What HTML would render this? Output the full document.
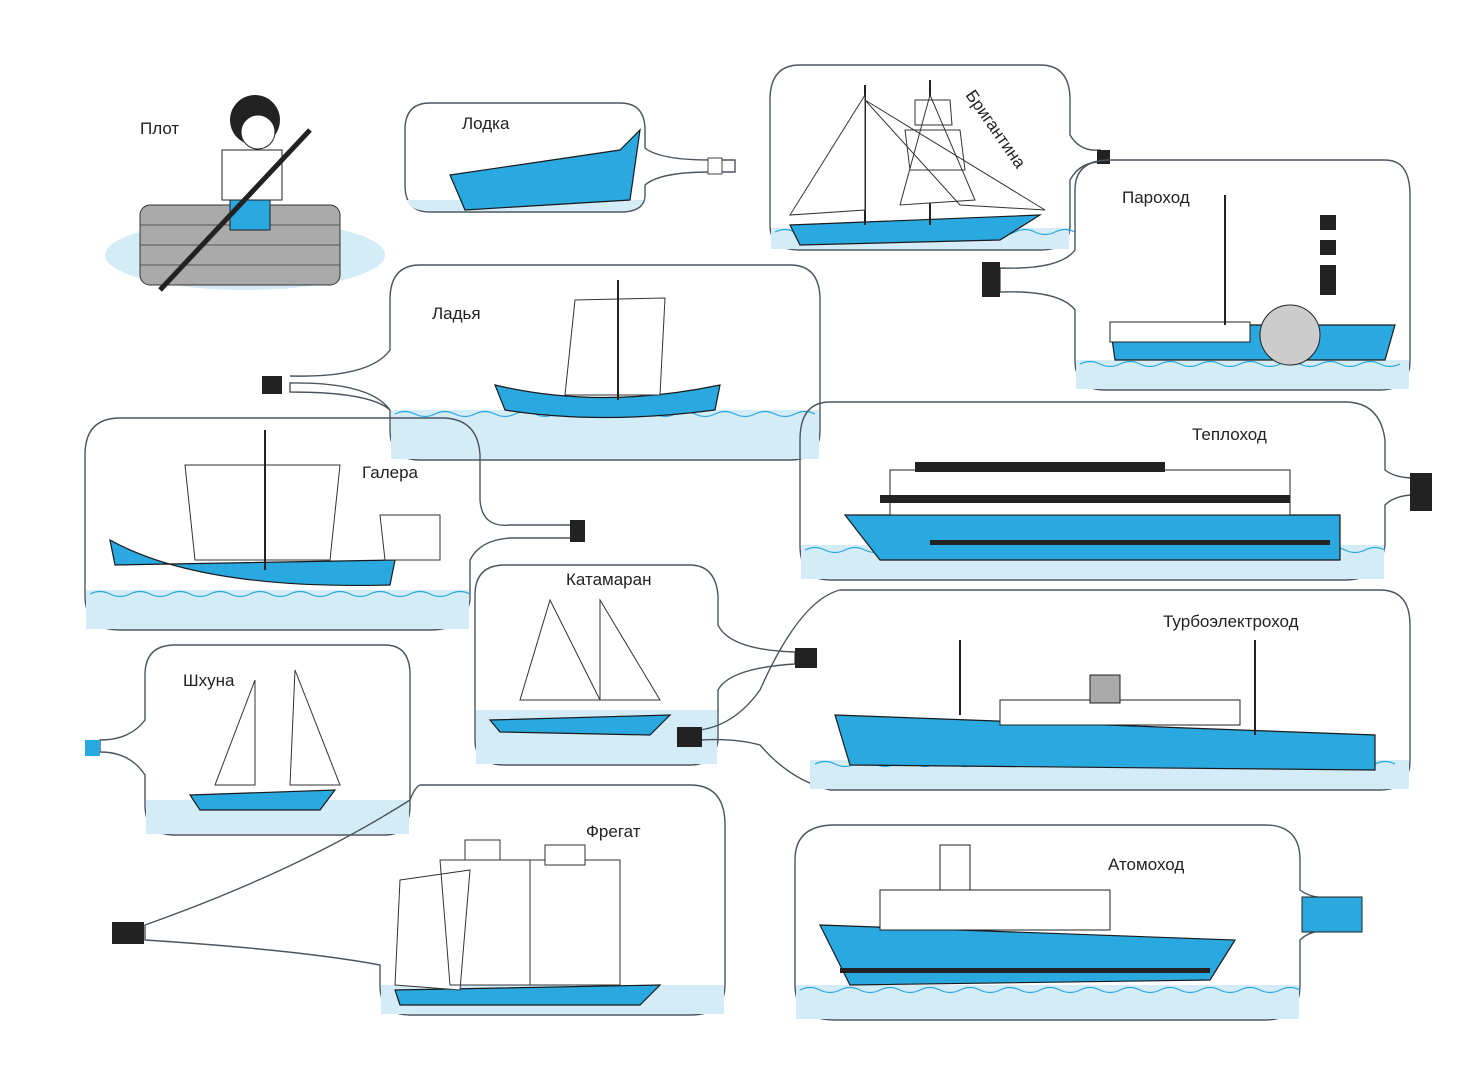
<!DOCTYPE html>
<html><head><meta charset="utf-8"><style>
html,body{margin:0;padding:0;background:#fff;}
svg{display:block}
text{font-family:"Liberation Sans",sans-serif;font-size:17px;fill:#222}
.b{fill:none;stroke:#4a5560;stroke-width:1.4}
.w{fill:#d3ecf7}
.s{fill:#2aa8e0;stroke:#1a1a1a;stroke-width:1.2}
.sail{fill:#fff;stroke:#333;stroke-width:1}
.m{stroke:#222;stroke-width:2}
.cork{fill:#222}
.wv{fill:none;stroke:#2aa8e0;stroke-width:1.2}
</style></head><body>
<svg width="1480" height="1080" viewBox="0 0 1480 1080">
<!-- Plot -->
<text x="140" y="134">Плот</text>
<ellipse cx="245" cy="255" rx="140" ry="35" class="w"/>
<rect x="140" y="205" width="200" height="80" rx="10" fill="#aaa" stroke="#333"/>
<g stroke="#555"><line x1="140" y1="225" x2="340" y2="225"/><line x1="140" y1="245" x2="340" y2="245"/><line x1="140" y1="265" x2="340" y2="265"/></g>
<circle cx="255" cy="120" r="25" fill="#222"/><circle cx="258" cy="132" r="17" fill="#fff" stroke="#222"/>
<rect x="222" y="150" width="60" height="50" fill="#fff" stroke="#222"/>
<rect x="230" y="200" width="40" height="30" fill="#2aa8e0" stroke="#222"/>
<line x1="160" y1="290" x2="310" y2="130" stroke="#222" stroke-width="5"/>
<!-- Lodka -->
<path class="b" style="fill:#fff" d="M430 103 H620 Q645 103 645 130 V148 Q660 160 710 160 H735 V172 H710 Q660 172 645 185 V195 Q645 212 620 212 H430 Q405 212 405 185 V130 Q405 103 430 103Z"/>
<path class="w" d="M406 200 H644 V195 Q644 211 620 211 H430 Q406 211 406 195Z"/>
<rect x="708" y="158" width="14" height="16" fill="#fff" stroke="#444"/>
<text x="462" y="129">Лодка</text>
<path class="s" d="M450 175 L620 150 L640 130 L630 200 L465 210 Z"/>
<!-- Brigantina -->
<path class="b" d="M800 65 H1040 Q1070 65 1070 100 V135 Q1080 152 1100 150 V162 Q1080 162 1070 180 V225 Q1070 250 1040 250 H800 Q770 250 770 225 V100 Q770 65 800 65Z"/>
<rect x="771" y="228" width="298" height="21" class="w"/>
<path class="wv" d="M775 232 q10 -5 20 0 t20 0 t20 0 t20 0 t20 0 t20 0 t20 0 t20 0 t20 0 t20 0 t20 0 t20 0 t20 0 t20 0 t20 0"/>
<rect x="1097" y="150" width="13" height="14" class="cork"/>
<text x="965" y="95" transform="rotate(55 965 95)">Бригантина</text>
<path class="s" d="M790 225 L1040 215 L1000 240 L800 245Z"/>
<line x1="865" y1="85" x2="865" y2="225" class="m"/><line x1="930" y1="80" x2="930" y2="225" class="m"/>
<path class="sail" d="M865 95 L790 215 L865 210Z M930 95 L975 200 L900 205Z M905 130 L960 130 L965 170 L910 170Z M915 100 L950 100 L952 125 L915 125Z M865 100 L1045 210 L960 205Z"/>
<!-- Parohod -->
<path class="b" d="M1110 160 H1385 Q1410 160 1410 195 V360 Q1410 390 1380 390 H1105 Q1075 390 1075 360 V310 Q1060 290 1000 292 V268 Q1060 270 1075 250 V190 Q1075 160 1110 160Z"/>
<rect x="1076" y="360" width="333" height="29" class="w"/>
<path class="wv" d="M1080 364 q10 -5 20 0 t20 0 t20 0 t20 0 t20 0 t20 0 t20 0 t20 0 t20 0 t20 0 t20 0 t20 0 t20 0 t20 0 t20 0 t20 0"/>
<rect x="982" y="262" width="18" height="35" class="cork"/>
<text x="1122" y="203">Пароход</text>
<path class="s" d="M1110 325 L1395 325 L1385 360 L1115 360Z"/>
<rect x="1110" y="322" width="140" height="20" fill="#fff" stroke="#222"/>
<rect x="1320" y="215" width="16" height="80" fill="#222"/>
<rect x="1320" y="230" width="16" height="10" fill="#fff"/><rect x="1320" y="255" width="16" height="10" fill="#fff"/>
<circle cx="1290" cy="335" r="30" fill="#ccc" stroke="#222"/>
<line x1="1225" y1="195" x2="1225" y2="325" class="m"/>
<!-- Ladya -->
<path class="b" d="M420 265 H790 Q820 265 820 300 V430 Q820 460 790 460 H420 Q390 460 390 430 V410 Q370 382 290 383 V392 Q370 392 390 410" />
<path class="b" d="M420 265 Q390 265 390 300 V350 Q370 378 290 376"/>
<rect x="391" y="410" width="428" height="49" class="w"/>
<path class="wv" d="M395 414 q10 -5 20 0 t20 0 t20 0 t20 0 t20 0 t20 0 t20 0 t20 0 t20 0 t20 0 t20 0 t20 0 t20 0 t20 0 t20 0 t20 0 t20 0 t20 0 t20 0 t20 0 t20 0"/>
<rect x="262" y="376" width="20" height="18" class="cork"/>
<text x="432" y="319">Ладья</text>
<path class="s" d="M495 385 Q600 410 720 385 L715 410 Q600 425 505 410Z"/>
<path class="sail" d="M575 300 L665 298 L660 395 L565 395Z"/>
<line x1="618" y1="280" x2="618" y2="400" class="m"/>
<!-- Galera -->
<path class="b" d="M120 418 H445 Q478 420 480 455 V500 Q482 528 510 525 H575 V538 H510 Q480 540 470 560 V600 Q465 630 430 630 H120 Q85 630 85 595 V455 Q85 418 120 418Z"/>
<rect x="86" y="590" width="383" height="39" class="w"/>
<path class="wv" d="M90 594 q10 -5 20 0 t20 0 t20 0 t20 0 t20 0 t20 0 t20 0 t20 0 t20 0 t20 0 t20 0 t20 0 t20 0 t20 0 t20 0 t20 0 t20 0 t20 0 t20 0"/>
<rect x="570" y="520" width="15" height="22" class="cork"/>
<text x="362" y="478">Галера</text>
<path class="s" d="M110 540 Q200 590 390 585 L395 560 L115 565Z"/>
<path class="sail" d="M185 465 L340 465 L330 560 L195 560Z"/>
<path class="sail" d="M380 515 L440 515 L440 560 L385 560Z"/>
<line x1="265" y1="430" x2="265" y2="570" class="m"/>
<!-- Teplohod -->
<path class="b" d="M830 402 H1345 Q1380 402 1385 440 V470 Q1395 478 1415 478 V495 Q1395 495 1385 505 V545 Q1380 580 1345 580 H830 Q800 580 800 545 V440 Q800 402 830 402Z"/>
<rect x="801" y="545" width="583" height="34" class="w"/>
<path class="wv" d="M805 550 q10 -5 20 0 t20 0 t20 0 t20 0 t20 0 t20 0 t20 0 t20 0 t20 0 t20 0 t20 0 t20 0 t20 0 t20 0 t20 0 t20 0 t20 0 t20 0 t20 0 t20 0 t20 0 t20 0 t20 0 t20 0 t20 0 t20 0 t20 0 t20 0 t20 0"/>
<rect x="1410" y="473" width="22" height="38" class="cork"/>
<text x="1192" y="440">Теплоход</text>
<path class="s" d="M845 515 L1340 515 L1340 560 L880 560Z"/>
<rect x="890" y="470" width="400" height="45" fill="#fff" stroke="#222"/>
<rect x="915" y="462" width="250" height="10" fill="#222"/>
<rect x="880" y="495" width="410" height="8" fill="#222"/>
<rect x="930" y="540" width="400" height="5" fill="#222"/>
<!-- Katamaran -->
<path class="b" d="M505 565 H690 Q715 565 718 595 V625 Q730 650 795 652 V664 Q730 668 718 690 V740 Q715 765 690 765 H505 Q475 765 475 740 V595 Q475 565 505 565Z"/>
<rect x="476" y="710" width="241" height="54" class="w"/>
<rect x="795" y="648" width="22" height="20" class="cork"/>
<text x="566" y="585">Катамаран</text>
<path class="s" d="M490 720 L670 715 L650 735 L500 732Z"/>
<path class="sail" d="M550 600 L600 700 L520 700Z M600 600 L660 700 L600 700Z"/>
<!-- Turbo -->
<path class="b" d="M840 590 H1380 Q1410 590 1410 625 V760 Q1410 790 1380 790 H830 Q790 780 760 745 Q735 738 700 740 M840 590 Q800 600 760 690 Q735 725 700 730"/>
<rect x="810" y="760" width="599" height="29" class="w"/>
<path class="wv" d="M815 764 q10 -5 20 0 t20 0 t20 0 t20 0 t20 0 t20 0 t20 0 t20 0 t20 0 t20 0 t20 0 t20 0 t20 0 t20 0 t20 0 t20 0 t20 0 t20 0 t20 0 t20 0 t20 0 t20 0 t20 0 t20 0 t20 0 t20 0 t20 0 t20 0 t20 0"/>
<rect x="677" y="727" width="25" height="20" class="cork"/>
<text x="1163" y="627">Турбоэлектроход</text>
<path class="s" d="M835 715 L1375 735 L1375 770 L850 765Z"/>
<rect x="1000" y="700" width="240" height="25" fill="#fff" stroke="#222"/>
<rect x="1090" y="675" width="30" height="28" fill="#aaa" stroke="#222"/>
<line x1="960" y1="640" x2="960" y2="715" class="m"/><line x1="1255" y1="640" x2="1255" y2="735" class="m"/>
<!-- Shhuna -->
<path class="b" d="M175 645 H385 Q410 645 410 675 V805 Q410 835 385 835 H175 Q145 835 145 805 V775 Q130 752 100 752 V740 Q130 740 145 720 V675 Q145 645 175 645Z"/>
<rect x="146" y="800" width="263" height="34" class="w"/>
<rect x="85" y="740" width="15" height="16" fill="#2aa8e0"/>
<text x="183" y="686">Шхуна</text>
<path class="s" d="M190 795 L335 790 L320 810 L200 810Z"/>
<path class="sail" d="M255 680 L215 785 L255 785Z M295 670 L340 785 L290 785Z"/>
<!-- Fregat -->
<path class="b" d="M420 785 H690 Q725 785 725 825 V985 Q725 1015 690 1015 H410 Q380 1015 380 985 V965 Q300 950 145 940 V925 Q300 870 410 800 Q415 787 420 785Z"/>
<rect x="381" y="985" width="343" height="29" class="w"/>
<rect x="112" y="922" width="32" height="22" class="cork"/>
<text x="586" y="837">Фрегат</text>
<path class="s" d="M395 990 L660 985 L640 1005 L400 1005Z"/>
<path class="sail" d="M400 880 L470 870 L460 990 L395 985Z M440 860 L530 860 L530 985 L450 985Z M530 860 L620 860 L620 985 L530 985Z"/>
<path class="sail" d="M465 840 L500 840 L500 860 L465 860Z M545 845 L585 845 L585 865 L545 865Z"/>
<!-- Atomohod -->
<path class="b" d="M835 825 H1265 Q1300 825 1300 860 V890 Q1310 898 1330 898 V930 Q1310 930 1300 940 V985 Q1300 1020 1265 1020 H835 Q795 1020 795 985 V860 Q795 825 835 825Z"/>
<rect x="796" y="985" width="503" height="34" class="w"/>
<path class="wv" d="M800 990 q10 -5 20 0 t20 0 t20 0 t20 0 t20 0 t20 0 t20 0 t20 0 t20 0 t20 0 t20 0 t20 0 t20 0 t20 0 t20 0 t20 0 t20 0 t20 0 t20 0 t20 0 t20 0 t20 0 t20 0 t20 0 t20 0"/>
<rect x="1302" y="897" width="60" height="35" fill="#2aa8e0" stroke="#222"/>
<text x="1108" y="870">Атомоход</text>
<path class="s" d="M820 925 L1235 940 L1210 980 L850 985Z"/>
<rect x="880" y="890" width="230" height="40" fill="#fff" stroke="#222"/>
<rect x="940" y="845" width="30" height="45" fill="#fff" stroke="#222"/>
<rect x="840" y="968" width="370" height="5" fill="#222"/>
</svg>
</body></html>
